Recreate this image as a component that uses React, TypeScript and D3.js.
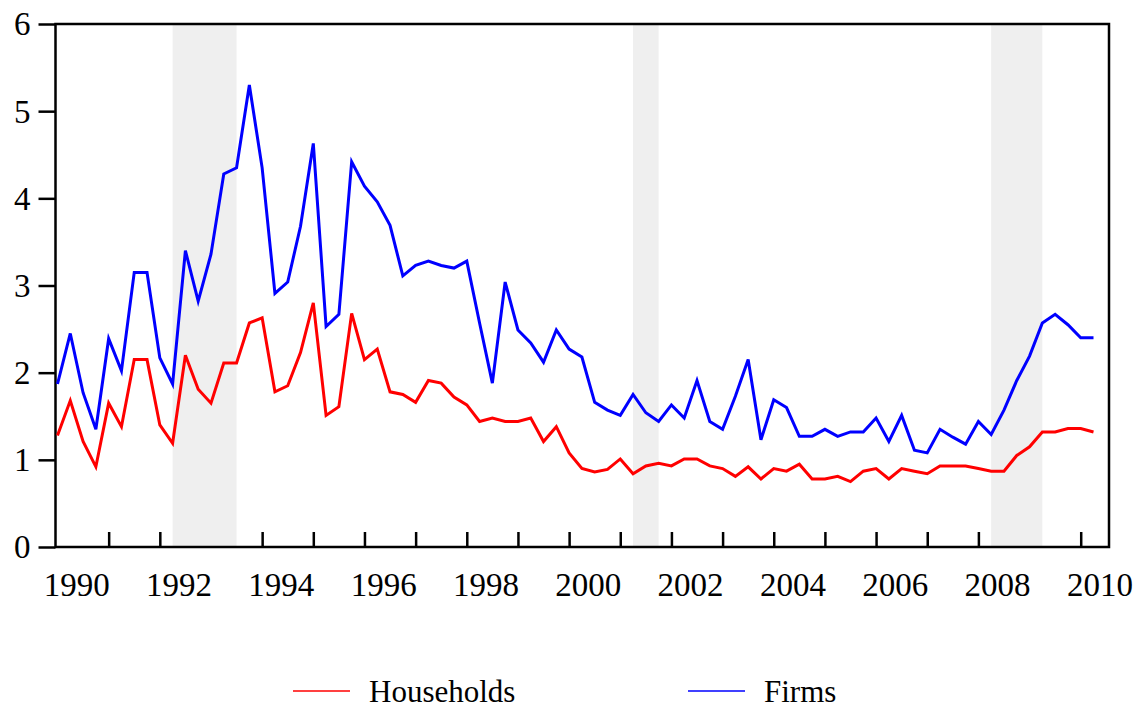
import { useEffect, useRef } from "react";
import * as d3 from "d3";

// quarterly, 1990Q1 .. 2010Q2
const startYear = 1990;

const firms = [
  1.87, 2.45, 1.77, 1.35, 2.39, 2.02, 3.15, 3.15, 2.17, 1.87,
  3.4, 2.82, 3.36, 4.28, 4.35, 5.3, 4.35, 2.91, 3.04, 3.68,
  4.63, 2.53, 2.67, 4.42, 4.14, 3.96, 3.69, 3.11, 3.23, 3.28,
  3.23, 3.2, 3.28, 2.57, 1.88, 3.04, 2.49, 2.34, 2.12, 2.49,
  2.27, 2.18, 1.66, 1.57, 1.51, 1.75, 1.54, 1.44, 1.63, 1.48,
  1.91, 1.44, 1.35, 1.73, 2.15, 1.23, 1.69, 1.6, 1.27, 1.27,
  1.35, 1.27, 1.32, 1.32, 1.48, 1.21, 1.51, 1.11, 1.08, 1.35,
  1.26, 1.18, 1.44, 1.29, 1.57, 1.91, 2.19, 2.57, 2.67, 2.55,
  2.4, 2.4,
];

const households = [
  1.28, 1.68, 1.21, 0.92, 1.65, 1.38, 2.15, 2.15, 1.4, 1.19,
  2.2, 1.81, 1.65, 2.11, 2.11, 2.57, 2.63, 1.78, 1.85, 2.23,
  2.8, 1.51, 1.61, 2.68, 2.15, 2.27, 1.78, 1.75, 1.66, 1.91,
  1.88, 1.72, 1.63, 1.44, 1.48, 1.44, 1.44, 1.48, 1.21, 1.38,
  1.08, 0.9, 0.86, 0.89, 1.01, 0.84, 0.93, 0.96, 0.93, 1.01,
  1.01, 0.93, 0.9, 0.81, 0.92, 0.78, 0.9, 0.87, 0.95, 0.78,
  0.78, 0.81, 0.75, 0.87, 0.9, 0.78, 0.9, 0.87, 0.84, 0.93,
  0.93, 0.93, 0.9, 0.87, 0.87, 1.05, 1.15, 1.32, 1.32, 1.36,
  1.36, 1.32,
];

const recessionStart = ["1992Q2", "2001Q2", "2008Q2"];
const recessionEnd = ["1993Q3", "2001Q4", "2009Q2"];

const yTicks = [0, 1, 2, 3, 4, 5, 6];
const yearLabels = ["1990", "1992", "1994", "1996", "1998", "2000", "2002", "2004", "2006", "2008", "2010"];

const seriesNames = ["Households", "Firms"];
const seriesColors = ["#ff0000", "#0000ff"];

const FONT = "'Liberation Serif', 'Times New Roman', serif";

// "1992Q2" -> quarter index from 1990Q1
const qIndex = (s: string) => (+s.slice(0, 4) - startYear) * 4 + (+s.slice(5) - 1);

export default function App() {
  const svgRef = useRef<SVGSVGElement>(null);

  useEffect(() => {
    const W = 1147;
    const H = 711;
    const left = 55.5;
    const right = 1109;
    const top = 24;
    const bottom = 547;

    const svg = d3.select(svgRef.current).attr("width", W).attr("height", H);
    svg.selectAll("*").remove();

    const xScale = d3.scaleLinear().domain([0, 81]).range([57.5, 1093.5]);
    const yScale = d3.scaleLinear().domain([0, 6]).range([bottom, top]);

    // x ticks, one per year, pointing up into the plot
    const yearTicks = d3.range(1, 21).map((k) => k * 4);
    const xAxis = d3
      .axisBottom(xScale)
      .tickValues(yearTicks)
      .tickSize(-15)
      .tickFormat(() => "");
    const gx = svg.append("g").attr("transform", `translate(0,${bottom})`).call(xAxis);
    gx.select(".domain").remove();
    gx.selectAll(".tick line").attr("stroke", "#000").attr("stroke-width", 2.5);

    // recession shading (drawn over the ticks, like the original)
    svg
      .append("g")
      .selectAll("rect")
      .data(recessionStart.map((s, i) => [qIndex(s), qIndex(recessionEnd[i])]))
      .join("rect")
      .attr("x", (d) => xScale(d[0]))
      .attr("width", (d) => xScale(d[1]) - xScale(d[0]))
      .attr("y", top)
      .attr("height", bottom - top)
      .attr("fill", "#efefef");

    // year labels, centred on the middle of the year
    svg
      .append("g")
      .selectAll("text")
      .data(yearLabels)
      .join("text")
      .attr("x", (d) => xScale((+d - startYear) * 4 + 1.5))
      .attr("y", 596)
      .attr("text-anchor", "middle")
      .attr("font-family", FONT)
      .attr("font-size", 33)
      .text((d) => d);

    // y axis
    const yAxis = d3.axisLeft(yScale).tickValues(yTicks).tickSize(17).tickPadding(8).tickFormat(d3.format("d"));
    const gy = svg.append("g").attr("transform", `translate(${left},0)`).call(yAxis);
    gy.select(".domain").remove();
    gy.selectAll(".tick line").attr("stroke", "#000").attr("stroke-width", 2.5);
    gy.selectAll(".tick text").attr("font-family", FONT).attr("font-size", 33).attr("fill", "#000").attr("dy", "0.33em");

    // frame
    svg
      .append("rect")
      .attr("x", left)
      .attr("y", top)
      .attr("width", right - left)
      .attr("height", bottom - top)
      .attr("fill", "none")
      .attr("stroke", "#000")
      .attr("stroke-width", 2.5);

    const line = d3
      .line<number>()
      .x((d, i) => xScale(i))
      .y((d) => yScale(d));

    [households, firms].forEach((s, k) => {
      svg
        .append("path")
        .datum(s)
        .attr("d", line)
        .attr("fill", "none")
        .attr("stroke", seriesColors[k])
        .attr("stroke-width", 3)
        .attr("stroke-linejoin", "miter");
    });

    // legend
    const legendX = [293, 688];
    const lg = svg
      .append("g")
      .selectAll("g")
      .data(seriesNames)
      .join("g")
      .attr("transform", (d, i) => `translate(${legendX[i]},691)`);
    lg.append("line")
      .attr("x1", 0)
      .attr("x2", 57)
      .attr("stroke", (d, i) => seriesColors[i])
      .attr("stroke-width", 1.5);
    lg.append("text")
      .attr("x", 76)
      .attr("y", 11)
      .attr("font-family", FONT)
      .attr("font-size", 31)
      .text((d) => d);
  }, []);

  return <svg ref={svgRef} style={{ position: "absolute", left: 0, top: 0, display: "block" }} />;
}
